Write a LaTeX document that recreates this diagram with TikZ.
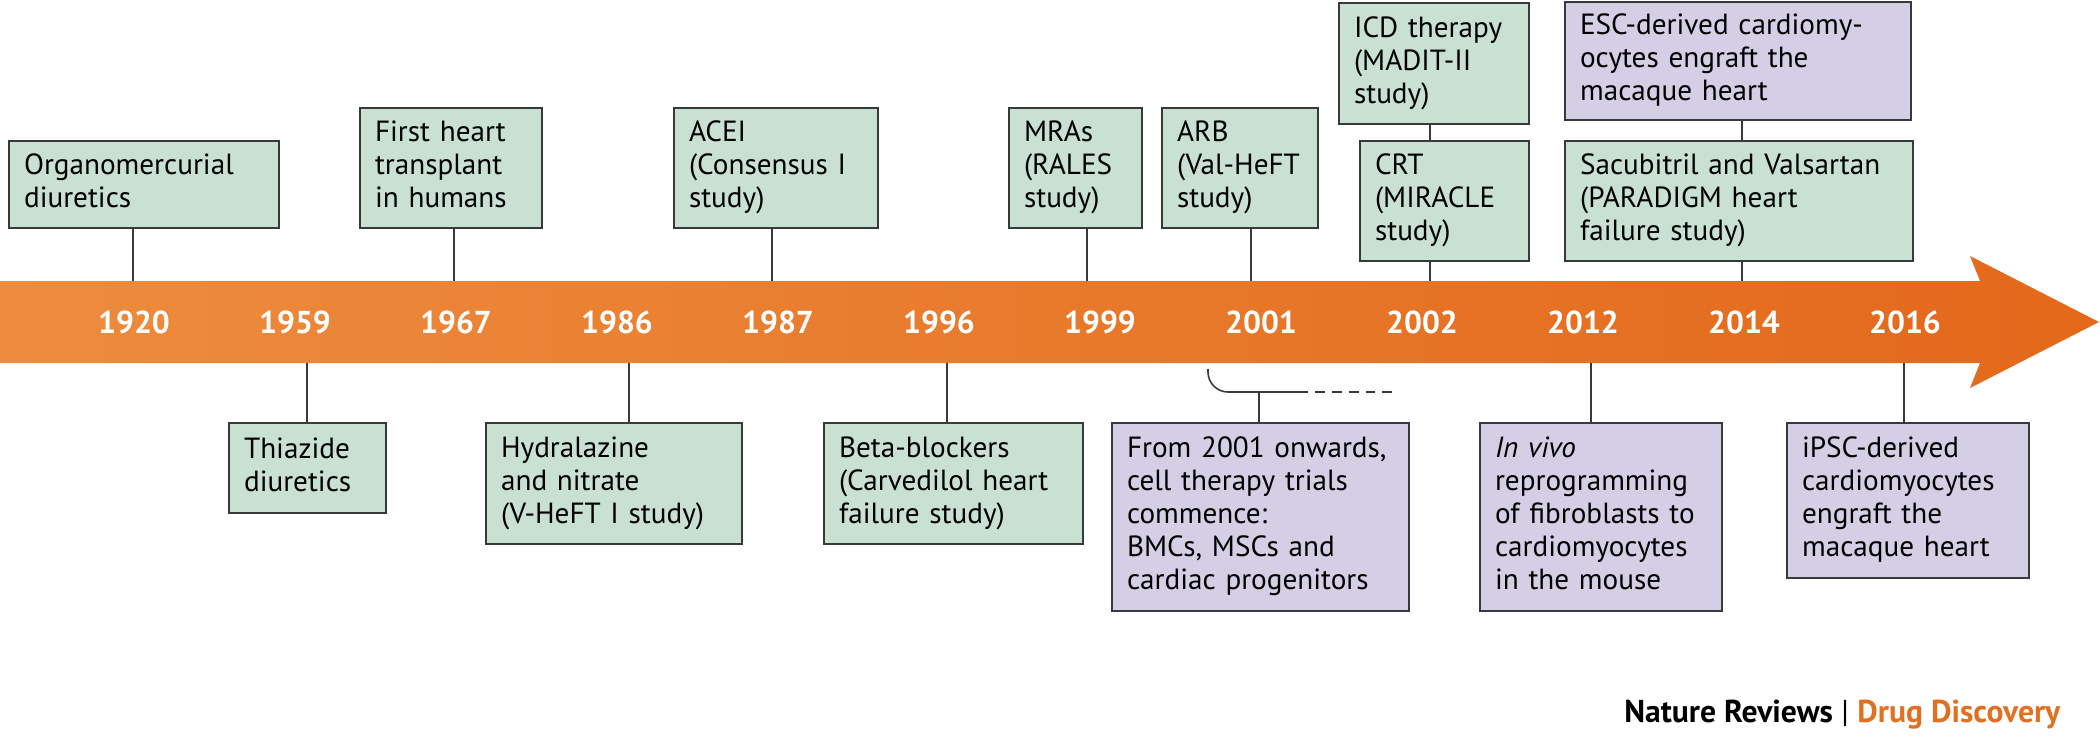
\documentclass[tikz,border=0pt]{standalone}
\usepackage{fontspec}
\setmainfont{PT Sans}
\newlength\pxu
\setlength\pxu{0.01cm}
\definecolor{drugfill}{RGB}{201,225,211}
\definecolor{cellfill}{RGB}{213,207,230}
\definecolor{boxline}{RGB}{55,58,58}
\definecolor{arrowleft}{RGB}{237,140,62}
\definecolor{arrowright}{RGB}{227,104,26}
\definecolor{credorange}{RGB}{224,112,34}
\newcommand{\evfont}{\fontsize{8.3pt}{9.39pt}\selectfont}
\newcommand{\yearfont}{\fontsize{9pt}{10pt}\selectfont\bfseries}
\tikzset{
  event/.style={draw=boxline, line width=0.6pt, anchor=north west, align=left,
    inner xsep=15\pxu, inner ysep=0pt, font=\evfont,
    execute at begin node=\strut, execute at end node=\strut},
  drugbox/.style={event, fill=drugfill},
  cellbox/.style={event, fill=cellfill},
  year/.style={font=\yearfont, text=white},
  tick/.style={draw=boxline, line width=0.45pt}
}
\begin{document}
\begin{tikzpicture}[x=0.01cm, y=-0.01cm]
  \useasboundingbox (0,0) rectangle (2100,736);
  \shade[left color=arrowleft, right color=arrowright]
    (0,281) -- (1980,281) -- (1970,256) -- (2099,322) -- (1970,388) -- (1980,363) -- (0,363) -- cycle;
  \path
    (134,322) node[year] (y1920) {1920}
    (295,322) node[year] (y1959) {1959}
    (456,322) node[year] (y1967) {1967}
    (617,322) node[year] (y1986) {1986}
    (778,322) node[year] (y1987) {1987}
    (939,322) node[year] (y1996) {1996}
    (1100,322) node[year] (y1999) {1999}
    (1261,322) node[year] (y2001) {2001}
    (1422,322) node[year] (y2002) {2002}
    (1583,322) node[year] (y2012) {2012}
    (1744,322) node[year] (y2014) {2014}
    (1905,322) node[year] (y2016) {2016};
  \coordinate (b1920) at (133,281);
  \coordinate (b1967) at (454,281);
  \coordinate (b1987) at (772,281);
  \coordinate (b1999) at (1087,281);
  \coordinate (b2001) at (1251,281);
  \coordinate (b2002) at (1430,281);
  \coordinate (b2014) at (1742,281);
  \coordinate (c1959) at (307,363);
  \coordinate (c1986) at (629,363);
  \coordinate (c1996) at (947,363);
  \coordinate (c2012) at (1591,363);
  \coordinate (c2016) at (1904,363);
  \coordinate (kstart) at (1208,369);
  \coordinate (kjoin) at (1259,392);
  \coordinate (kmid) at (1298,392);
  \coordinate (kend) at (1393,392);
  \node[drugbox, text width=240\pxu, minimum height=87\pxu] (e1920) at (8,140) {Organomercurial\\diuretics};
  \node[drugbox, text width=127\pxu, minimum height=90\pxu] (e1959) at (228,422) {Thiazide\\diuretics};
  \node[drugbox, text width=152\pxu, minimum height=120\pxu] (e1967) at (359,107) {First heart\\transplant\\in humans};
  \node[drugbox, text width=226\pxu, minimum height=121\pxu] (e1986) at (485,422) {Hydralazine\\and nitrate\\(V-HeFT I study)};
  \node[drugbox, text width=174\pxu, minimum height=120\pxu] (e1987) at (673,107) {ACEI\\(Consensus I\\study)};
  \node[drugbox, text width=229\pxu, minimum height=121\pxu] (e1996) at (823,422) {Beta-blockers\\(Carvedilol heart\\failure study)};
  \node[drugbox, text width=103\pxu, minimum height=120\pxu] (e1999) at (1008,107) {MRAs\\(RALES\\study)};
  \node[drugbox, text width=126\pxu, minimum height=120\pxu] (e2001a) at (1161,107) {ARB\\(Val-HeFT\\study)};
  \node[cellbox, text width=267\pxu, minimum height=188\pxu] (e2001b) at (1111,422) {From 2001 onwards,\\cell therapy trials\\commence:\\BMCs, MSCs and\\cardiac progenitors};
  \node[drugbox, text width=160\pxu, minimum height=121\pxu] (e2002a) at (1338,2) {ICD therapy\\(MADIT-II\\study)};
  \node[drugbox, text width=139\pxu, minimum height=120\pxu] (e2002b) at (1359,140) {CRT\\(MIRACLE\\study)};
  \node[cellbox, text width=212\pxu, minimum height=188\pxu] (e2012) at (1479,422) {\textit{In vivo}\\reprogramming\\of fibroblasts to\\cardiomyocytes\\in the mouse};
  \node[cellbox, text width=316\pxu, minimum height=118\pxu] (e2014a) at (1564,1) {ESC-derived cardiomy-\\ocytes engraft the\\macaque heart};
  \node[drugbox, text width=318\pxu, minimum height=120\pxu] (e2014b) at (1564,140) {Sacubitril and Valsartan\\(PARADIGM heart\\failure study)};
  \node[cellbox, text width=212\pxu, minimum height=155\pxu] (e2016) at (1786,422) {iPSC-derived\\cardiomyocytes\\engraft the\\macaque heart};
  \begin{scope}[tick]
    \draw (b1920 |- e1920.south) to (b1920);
    \draw (b1967 |- e1967.south) to (b1967);
    \draw (b1987 |- e1987.south) to (b1987);
    \draw (b1999 |- e1999.south) to (b1999);
    \draw (b2001 |- e2001a.south) to (b2001);
    \draw (b2002 |- e2002a.south) to (b2002 |- e2002b.north);
    \draw (b2002 |- e2002b.south) to (b2002);
    \draw (b2014 |- e2014a.south) to (b2014 |- e2014b.north);
    \draw (b2014 |- e2014b.south) to (b2014);
    \draw (c1959) to (c1959 |- e1959.north);
    \draw (c1986) to (c1986 |- e1986.north);
    \draw (c1996) to (c1996 |- e1996.north);
    \draw (c2012) to (c2012 |- e2012.north);
    \draw (c2016) to (c2016 |- e2016.north);
    \draw[rounded corners=20\pxu] (kstart) |- (kmid);
    \draw[dash pattern=on 2.8pt off 2pt] (kmid) to (kend);
    \draw (kjoin) to (kjoin |- e2001b.north);
  \end{scope}
  \node[anchor=base east, font=\fontsize{9pt}{10pt}\selectfont] (credit) at (2073,722)
    {\textbf{Nature Reviews} | \textcolor{credorange}{\textbf{Drug Discovery}}};
\end{tikzpicture}
\end{document}
